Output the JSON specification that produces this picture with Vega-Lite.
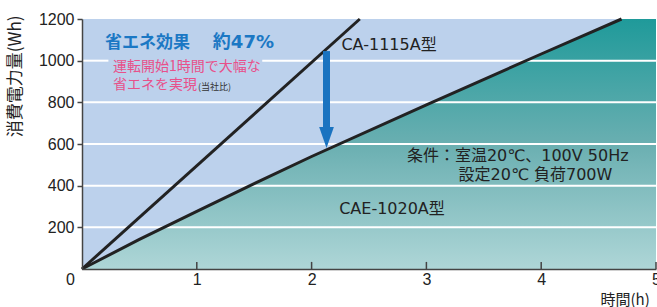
{
  "$schema": "https://vega.github.io/schema/vega-lite/v6.json",
  "width": 574,
  "height": 250,
  "autosize": {"type": "none"},
  "padding": {"left": 82, "top": 19, "right": 1, "bottom": 38},
  "background": "white",
  "config": {
    "view": {"stroke": null, "fill": "#bcd1ec"},
    "font": "Liberation Sans, Noto Sans CJK JP",
    "text": {"font": "Liberation Sans, Noto Sans CJK JP"}
  },
  "datasets": {
    "cae": [
      {"h": 0, "wh": 0},
      {"h": 0.5, "wh": 142},
      {"h": 1, "wh": 277},
      {"h": 1.5, "wh": 410},
      {"h": 2, "wh": 540},
      {"h": 3, "wh": 788},
      {"h": 4, "wh": 1032},
      {"h": 4.7, "wh": 1200},
      {"h": 5, "wh": 1200}
    ],
    "ca": [
      {"h": 0, "wh": 0},
      {"h": 2.42, "wh": 1200}
    ],
    "grid": [
      {"h": 0, "h2": 5, "wh": 200},
      {"h": 0, "h2": 5, "wh": 400},
      {"h": 0, "h2": 5, "wh": 600},
      {"h": 0, "h2": 5, "wh": 800},
      {"h": 0, "h2": 0.23, "wh": 1000},
      {"h": 1.57, "h2": 5, "wh": 1000}
    ],
    "xticks": [
      {"h": 1, "wh": 0, "wh2": 34},
      {"h": 2, "wh": 0, "wh2": 34},
      {"h": 3, "wh": 0, "wh2": 34},
      {"h": 4, "wh": 0, "wh2": 34},
      {"h": 5, "wh": 0, "wh2": 34}
    ]
  },
  "layer": [
    {
      "data": {"name": "cae"},
      "mark": {
        "type": "area",
        "color": {
          "gradient": "linear",
          "x1": 0, "y1": 0, "x2": 0, "y2": 1,
          "stops": [
            {"offset": 0, "color": "#1f9a9a"},
            {"offset": 0.5, "color": "#6aafb1"},
            {"offset": 1, "color": "#aed6d7"}
          ]
        }
      },
      "encoding": {
        "x": {
          "field": "h", "type": "quantitative",
          "scale": {"domain": [0, 5], "nice": false},
          "axis": {
            "values": [0, 1, 2, 3, 4, 5],
            "format": "d",
            "title": "時間(h)",
            "titleFont": "Noto Sans CJK JP",
            "titleFontSize": 15,
            "titleFontWeight": "normal",
            "titleColor": "#222",
            "titleX": 518,
            "titleY": 30,
            "titleAlign": "left",
            "titleBaseline": "middle",
            "ticks": false,
            "grid": false,
            "domainColor": "#444",
            "domainWidth": 1.5,
            "labelFontSize": 16,
            "labelColor": "#222",
            "labelPadding": 2,
            "labelFlush": false,
            "labelOffset": {"expr": "datum.value === 0 ? -12 : 0"},
            "zindex": 1
          }
        },
        "y": {
          "field": "wh", "type": "quantitative",
          "scale": {"domain": [0, 1200], "nice": false},
          "axis": {
            "values": [200, 400, 600, 800, 1000, 1200],
            "format": "d",
            "title": "消費電力量(Wh)",
            "titleFont": "Noto Sans CJK JP",
            "titleFontSize": 17,
            "titleFontWeight": "normal",
            "titleColor": "#222",
            "titleAngle": -90,
            "titleX": -67,
            "titleY": -4,
            "titleAlign": "right",
            "titleBaseline": "middle",
            "grid": false,
            "tickSize": 5,
            "tickColor": "#444",
            "tickWidth": 1.5,
            "domainColor": "#444",
            "domainWidth": 1.5,
            "labelFontSize": 16,
            "labelColor": "#222",
            "labelPadding": 3,
            "zindex": 1
          }
        }
      }
    },
    {
      "data": {"name": "grid"},
      "mark": {"type": "rule", "color": "white", "strokeWidth": 2},
      "encoding": {
        "x": {"field": "h", "type": "quantitative"},
        "x2": {"field": "h2"},
        "y": {"field": "wh", "type": "quantitative"}
      }
    },
    {
      "data": {"name": "xticks"},
      "mark": {"type": "rule", "color": "#444", "strokeWidth": 1.5},
      "encoding": {
        "x": {"field": "h", "type": "quantitative"},
        "y": {"field": "wh", "type": "quantitative"},
        "y2": {"field": "wh2"}
      }
    },
    {
      "data": {"name": "cae"},
      "transform": [{"filter": "datum.h <= 4.7"}],
      "mark": {"type": "line", "color": "#222", "strokeWidth": 3},
      "encoding": {
        "x": {"field": "h", "type": "quantitative"},
        "y": {"field": "wh", "type": "quantitative"}
      }
    },
    {
      "data": {"name": "ca"},
      "mark": {"type": "line", "color": "#222", "strokeWidth": 3},
      "encoding": {
        "x": {"field": "h", "type": "quantitative"},
        "y": {"field": "wh", "type": "quantitative"}
      }
    },
    {
      "data": {"values": [{"h": 2.13, "wh": 1046, "wh2": 670}]},
      "mark": {"type": "rule", "color": "#1a73c0", "strokeWidth": 7},
      "encoding": {
        "x": {"field": "h", "type": "quantitative"},
        "y": {"field": "wh", "type": "quantitative"},
        "y2": {"field": "wh2"}
      }
    },
    {
      "data": {"values": [{"h": 2.13, "wh": 631}]},
      "mark": {"type": "point", "shape": "M-0.7,-1L0.7,-1L0,1Z", "filled": true, "opacity": 1, "color": "#1a73c0", "size": 441},
      "encoding": {
        "x": {"field": "h", "type": "quantitative"},
        "y": {"field": "wh", "type": "quantitative"}
      }
    },
    {
      "data": {"values": [{"h": 0.2, "wh": 1085, "t": "省エネ効果"}]},
      "mark": {"type": "text", "align": "left", "baseline": "middle", "font": "Noto Sans CJK JP", "fontSize": 17, "fontWeight": "bold", "color": "#1b78c4"},
      "encoding": {
        "x": {"field": "h", "type": "quantitative"},
        "y": {"field": "wh", "type": "quantitative"},
        "text": {"field": "t"}
      }
    },
    {
      "data": {"values": [{"h": 1.14, "wh": 1085, "t": "約47%"}]},
      "mark": {"type": "text", "align": "left", "baseline": "middle", "font": "DejaVu Sans, Noto Sans CJK JP", "fontSize": 18, "fontWeight": "bold", "color": "#1b78c4"},
      "encoding": {
        "x": {"field": "h", "type": "quantitative"},
        "y": {"field": "wh", "type": "quantitative"},
        "text": {"field": "t"}
      }
    },
    {
      "data": {"values": [
        {"h": 0.27, "wh": 970, "t": "運転開始1時間で大幅な"},
        {"h": 0.27, "wh": 885, "t": "省エネを実現"}
      ]},
      "mark": {"type": "text", "align": "left", "baseline": "middle", "font": "Noto Sans CJK JP", "fontSize": 14, "color": "#e8508a"},
      "encoding": {
        "x": {"field": "h", "type": "quantitative"},
        "y": {"field": "wh", "type": "quantitative"},
        "text": {"field": "t"}
      }
    },
    {
      "data": {"values": [{"h": 1.01, "wh": 876, "t": "(当社比)"}]},
      "mark": {"type": "text", "align": "left", "baseline": "middle", "font": "Noto Sans CJK JP", "fontSize": 9, "color": "#333"},
      "encoding": {
        "x": {"field": "h", "type": "quantitative"},
        "y": {"field": "wh", "type": "quantitative"},
        "text": {"field": "t"}
      }
    },
    {
      "data": {"values": [
        {"h": 2.26, "wh": 1075, "t": "CA-1115A型"},
        {"h": 2.24, "wh": 290, "t": "CAE-1020A型"},
        {"h": 2.83, "wh": 542, "t": "条件：室温20℃、100V 50Hz"},
        {"h": 3.28, "wh": 451, "t": "設定20℃ 負荷700W"}
      ]},
      "mark": {"type": "text", "align": "left", "baseline": "middle", "font": "DejaVu Sans, Noto Sans CJK JP", "fontSize": 16, "color": "#222"},
      "encoding": {
        "x": {"field": "h", "type": "quantitative"},
        "y": {"field": "wh", "type": "quantitative"},
        "text": {"field": "t"}
      }
    }
  ]
}
